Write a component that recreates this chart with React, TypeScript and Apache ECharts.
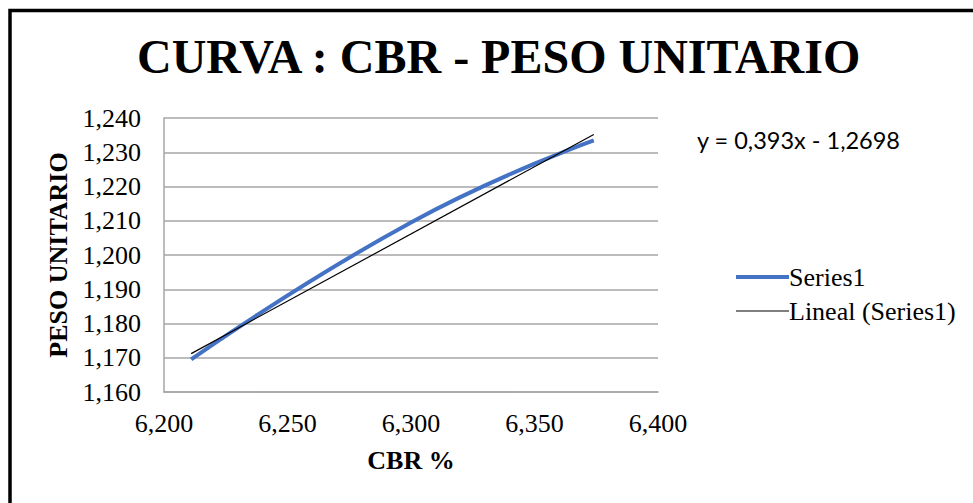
import React, { useEffect, useRef } from "react";
import * as echarts from "echarts";

const titleText = "CURVA : CBR - PESO UNITARIO";
const xAxisName = "CBR %";
const yAxisName = "PESO UNITARIO";
const seriesName = "Series1";
const trendName = "Lineal (Series1)";
const equationText = "y = 0,393x - 1,2698";

const cbrValues = [6.211, 6.3, 6.374];
const pesoValues = [1.1695, 1.2095, 1.2335];
const trendX = [6.211, 6.374];
const trendY = [1.1712, 1.2352];

const xMin = 6.2;
const xMax = 6.4;
const xStep = 0.05;
const yMin = 1.16;
const yMax = 1.24;
const yStep = 0.01;

const fmt = (v: number) => v.toFixed(3).replace(".", ",");

export default function App() {
  const ref = useRef<HTMLDivElement>(null);
  useEffect(() => {
    if (!ref.current) return;
    const chart = echarts.init(ref.current, undefined, { renderer: "svg" });
    const serif = "Liberation Serif";
    const grid = "#a6a6a6";
    chart.setOption({
      animation: false,
      backgroundColor: "#ffffff",
      textStyle: { fontFamily: serif },
      title: {
        text: titleText,
        left: 137,
        top: 32,
        padding: 0,
        textStyle: { fontFamily: serif, fontWeight: "bold", fontSize: 48, color: "#000" },
      },
      legend: {
        orient: "vertical",
        left: 729,
        top: 259,
        itemWidth: 53,
        itemHeight: 14,
        itemGap: 8,
        itemStyle: { opacity: 0 },
        lineStyle: { width: "inherit" },
        data: [seriesName, trendName],
        textStyle: { fontFamily: serif, fontSize: 26, color: "#000", padding: [0, 0, 0, -5] },
      },
      grid: { left: 164, top: 118, right: 315, bottom: 111 },
      xAxis: {
        type: "value",
        min: xMin,
        max: xMax,
        interval: xStep,
        name: xAxisName,
        nameLocation: "middle",
        nameGap: 55,
        nameTextStyle: { fontFamily: serif, fontWeight: "bold", fontSize: 26, color: "#000" },
        axisLine: { show: true, lineStyle: { color: grid, width: 1.5 } },
        axisTick: { show: false },
        splitLine: { show: false },
        axisLabel: { formatter: fmt, fontFamily: serif, fontSize: 26, color: "#000", margin: 18 },
      },
      yAxis: {
        type: "value",
        min: yMin,
        max: yMax,
        interval: yStep,
        name: yAxisName,
        nameLocation: "middle",
        nameGap: 93,
        nameTextStyle: { fontFamily: serif, fontWeight: "bold", fontSize: 26, color: "#000" },
        axisLine: { show: true, lineStyle: { color: grid, width: 1.5 } },
        axisTick: { show: false },
        splitLine: { show: true, lineStyle: { color: grid, width: 1.5 } },
        axisLabel: { formatter: fmt, fontFamily: serif, fontSize: 26, color: "#000", margin: 23 },
      },
      series: [
        {
          name: seriesName,
          type: "line",
          smooth: 0.5,
          symbol: "none",
          data: cbrValues.map((x, i) => [x, pesoValues[i]]),
          lineStyle: { color: "#4472C4", width: 4 },
          itemStyle: { color: "#4472C4" },
          z: 2,
        },
        {
          name: trendName,
          type: "line",
          symbol: "none",
          data: trendX.map((x, i) => [x, trendY[i]]),
          lineStyle: { color: "#000000", width: 1.2 },
          itemStyle: { color: "#000000" },
          z: 3,
        },
      ],
      graphic: [
        {
          type: "rect",
          shape: { x: 10, y: 10.5, width: 1100, height: 700 },
          style: { fill: "none", stroke: "#000", lineWidth: 3.5 },
          silent: true,
        },
        {
          type: "text",
          x: 697,
          y: 140,
          style: {
            text: equationText,
            font: "23.5px Lato",
            fill: "#000",
            textVerticalAlign: "middle",
          },
        },
      ],
    });
    return () => chart.dispose();
  }, []);
  return (
    <div style={{ position: "fixed", left: 0, top: 0, width: 973, height: 503, overflow: "hidden", background: "#fff" }}>
      <div ref={ref} style={{ width: 973, height: 503 }} />
    </div>
  );
}
